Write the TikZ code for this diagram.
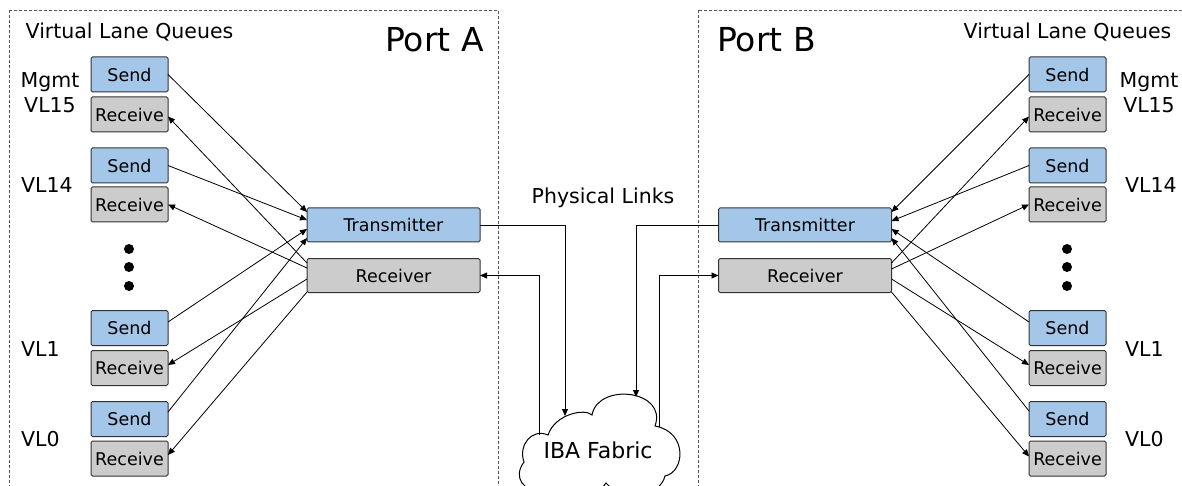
\documentclass[tikz,border=0pt]{standalone}
\usepackage{fontspec}
\setmainfont{DejaVu Sans}
\usetikzlibrary{arrows.meta}
\definecolor{sendblue}{HTML}{A4C7E9}
\definecolor{recvgray}{HTML}{CCCCCC}
\definecolor{boxline}{HTML}{333333}
\definecolor{framegray}{HTML}{555555}
\tikzset{
  queue/.style={draw=boxline, line width=1pt, rounded corners=1.5pt,
    minimum width=77pt, minimum height=35pt, inner sep=0pt, outer sep=0pt,
    font=\fontsize{17.5}{20}\selectfont},
  sendq/.style={queue, fill=sendblue},
  recvq/.style={queue, fill=recvgray},
  phy/.style={draw=boxline, line width=1pt, rounded corners=1.5pt,
    minimum width=173pt, minimum height=34pt, inner sep=0pt, outer sep=0pt,
    font=\fontsize{17.5}{20}\selectfont},
  lbl/.style={inner sep=0pt, font=\fontsize{20.5}{25.4}\selectfont},
  portlbl/.style={inner sep=0pt, font=\fontsize{33}{40}\selectfont},
  link/.style={line width=0.8pt, -{Triangle[length=7pt,width=6pt]}},
  portframe/.style={draw=framegray, line width=0.8pt, dash pattern=on 3pt off 2pt},
  vdot/.style={circle, fill=black, minimum size=10pt, inner sep=0pt},
}
\begin{document}
\begin{tikzpicture}[x=1pt, y=-1pt]
\useasboundingbox (0,0) rectangle (1182,486);
\clip (0,0) rectangle (1182,486);

% port frames
\draw[portframe] (9,10) rectangle (498,520);
\draw[portframe] (698,10) rectangle (1200,520);

% ---------- Port A ----------
\node[portlbl, anchor=base west] (portA) at (385,52) {Port A};
\node[lbl, anchor=base] (vlqA) at (129.5,38.3) {Virtual Lane Queues};

\node[sendq] (sA15) at (129.5,74.5) {Send};
\node[recvq] (rA15) at (129.5,114.5) {Receive};
\node[sendq] (sA14) at (129.5,165.5) {Send};
\node[recvq] (rA14) at (129.5,204.5) {Receive};
\node[sendq] (sA1) at (129.5,328) {Send};
\node[recvq] (rA1) at (129.5,368) {Receive};
\node[sendq] (sA0) at (129.5,419) {Send};
\node[recvq] (rA0) at (129.5,458.5) {Receive};

\node[lbl, align=center] (lA15) at (50,92.5) {Mgmt\\VL15};
\node[lbl, anchor=base west] (lA14) at (21,192.7) {VL14};
\node[lbl, anchor=base west] (lA1) at (21,356.7) {VL1};
\node[lbl, anchor=base west] (lA0) at (21,446) {VL0};

\node[vdot] (dA1) at (129,249) {};
\node[vdot] (dA2) at (129,267) {};
\node[vdot] (dA3) at (129,286) {};

\node[phy, fill=sendblue] (txA) at (393.5,225) {Transmitter};
\node[phy, fill=recvgray] (rxA) at (393.5,275.5) {Receiver};

\draw[link] (sA15.east) -- ([yshift=13pt]txA.west);
\draw[link] (sA14.east) -- ([yshift=5pt]txA.west);
\draw[link] ([yshift=6pt]sA1.east) -- ([yshift=-4pt]txA.west);
\draw[link] ([yshift=7pt]sA0.east) -- ([yshift=-13pt]txA.west);
\draw[link] ([yshift=12.5pt]rxA.west) -- ([yshift=-2pt]rA15.east);
\draw[link] ([yshift=7.5pt]rxA.west) -- (rA14.east);
\draw[link] ([yshift=-3.5pt]rxA.west) -- ([yshift=3pt]rA1.east);
\draw[link] ([yshift=-16.5pt]rxA.west) -- ([yshift=3.5pt]rA0.east);

% ---------- Port B ----------
\node[portlbl, anchor=base west] (portB) at (717,52) {Port B};
\node[lbl, anchor=base] (vlqB) at (1067.5,38.3) {Virtual Lane Queues};

\node[sendq] (sB15) at (1067.5,74.5) {Send};
\node[recvq] (rB15) at (1067.5,114.5) {Receive};
\node[sendq] (sB14) at (1067.5,165.5) {Send};
\node[recvq] (rB14) at (1067.5,204.5) {Receive};
\node[sendq] (sB1) at (1067.5,328) {Send};
\node[recvq] (rB1) at (1067.5,368) {Receive};
\node[sendq] (sB0) at (1067.5,419) {Send};
\node[recvq] (rB0) at (1067.5,458.5) {Receive};

\node[lbl, align=center] (lB15) at (1149,92.5) {Mgmt\\VL15};
\node[lbl, anchor=base west] (lB14) at (1125,192.7) {VL14};
\node[lbl, anchor=base west] (lB1) at (1125,356.7) {VL1};
\node[lbl, anchor=base west] (lB0) at (1125,446) {VL0};

\node[vdot] (dB1) at (1067,249) {};
\node[vdot] (dB2) at (1067,267) {};
\node[vdot] (dB3) at (1067,286) {};

\node[phy, fill=sendblue] (txB) at (805,225) {Transmitter};
\node[phy, fill=recvgray] (rxB) at (805,275.5) {Receiver};

\draw[link] (sB15.west) -- ([yshift=13pt]txB.east);
\draw[link] (sB14.west) -- ([yshift=4pt]txB.east);
\draw[link] ([yshift=6pt]sB1.west) -- ([yshift=-4pt]txB.east);
\draw[link] ([yshift=8pt]sB0.west) -- ([yshift=-13pt]txB.east);
\draw[link] ([yshift=12.5pt]rxB.east) -- ([yshift=-2pt]rB15.west);
\draw[link] ([yshift=6.5pt]rxB.east) -- (rB14.west);
\draw[link] ([yshift=-3.5pt]rxB.east) -- ([yshift=3pt]rB1.west);
\draw[link] ([yshift=-16.5pt]rxB.east) -- ([yshift=2pt]rB0.west);

% ---------- fabric ----------
\draw[line width=1pt, draw=black, fill=white]
  (548,435) .. controls (532,428) and (518,445) .. (524,462)
  .. controls (512,478) and (525,492) .. (540,490)
  .. controls (560,505) and (595,500) .. (606,483)
  .. controls (620,500) and (660,498) .. (665,476)
  .. controls (685,472) and (688,432) .. (655,426)
  .. controls (668,390) and (598,382) .. (592,415)
  .. controls (585,408) and (555,414) .. (548,435) -- cycle;
\node[inner sep=0pt, anchor=base, font=\fontsize{22}{26}\selectfont] (fabric) at (598,458) {IBA Fabric};
\node[lbl, anchor=base] (phys) at (603,203.3) {Physical Links};

\coordinate (fAin) at (565,416);
\coordinate (fAout) at (539,435);
\coordinate (fBin) at (636,397);
\coordinate (fBout) at (659,427);

\draw[link] (txA.east) -| (fAin);
\draw[link] (fAout) |- (rxA.east);
\draw[link] (txB.west) -| (fBin);
\draw[link] (fBout) |- (rxB.west);
\end{tikzpicture}
\end{document}
